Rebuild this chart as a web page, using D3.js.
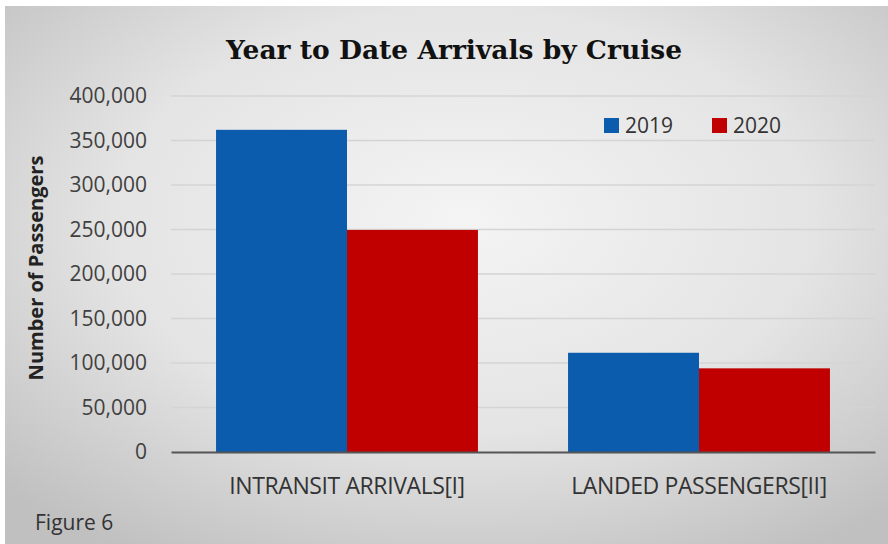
<!DOCTYPE html>
<html>
<head>
<meta charset="utf-8">
<script src="https://cdn.jsdelivr.net/npm/d3@7"></script>
<style>
  body { margin: 0; background: #fff; }
  svg { display: block; }
</style>
</head>
<body>
<svg></svg>
<script>
const svgWidth = 888;
const svgHeight = 544;

const categories = ["INTRANSIT ARRIVALS[I]", "LANDED PASSENGERS[II]"];
const seriesNames = ["2019", "2020"];
const values2019 = [362000, 111500];
const values2020 = [249500, 94000];
const yTicks = [0, 50000, 100000, 150000, 200000, 250000, 300000, 350000, 400000];
const seriesColors = ["#0b5cad", "#c00000"];

const svg = d3.select("svg")
  .attr("width", svgWidth)
  .attr("height", svgHeight);

// chart background: grey radial gradient
const defs = svg.append("defs");
const grad = defs.append("radialGradient")
  .attr("id", "bg")
  .attr("cx", "52%").attr("cy", "40%").attr("r", "72%");
grad.append("stop").attr("offset", "0%").attr("stop-color", "#f4f4f4");
grad.append("stop").attr("offset", "55%").attr("stop-color", "#e4e4e4");
grad.append("stop").attr("offset", "100%").attr("stop-color", "#c0c0c0");

svg.append("rect")
  .attr("x", 5).attr("y", 6)
  .attr("width", svgWidth - 5).attr("height", svgHeight - 6)
  .attr("fill", "url(#bg)");

const plot = { left: 171, right: 875, top: 96, bottom: 452 };

const x0 = d3.scaleBand()
  .domain(categories)
  .range([plot.left, plot.right])
  .padding(0);

const x1 = d3.scaleBand()
  .domain(seriesNames)
  .range([0, x0.bandwidth()])
  .paddingInner(0)
  .paddingOuter(0.344);

const y = d3.scaleLinear()
  .domain([0, 400000])
  .range([plot.bottom, plot.top]);

// gridlines
svg.append("g")
  .selectAll("line")
  .data(yTicks.filter(d => d > 0))
  .enter()
  .append("line")
  .attr("x1", plot.left)
  .attr("x2", plot.right)
  .attr("y1", d => y(d))
  .attr("y2", d => y(d))
  .attr("stroke", "#d4d4d4")
  .attr("stroke-width", 1.5);

// y axis labels
const yAxis = d3.axisLeft(y)
  .tickValues(yTicks)
  .tickFormat(d3.format(","))
  .tickSize(0)
  .tickPadding(24);

svg.append("g")
  .attr("transform", "translate(" + plot.left + ",0)")
  .call(yAxis)
  .call(g => g.select(".domain").remove())
  .selectAll("text")
  .attr("font-family", "'Open Sans', sans-serif")
  .attr("font-size", 21)
  .attr("fill", "#404040");

// bars
const rows = categories.map((c, i) => ({ cat: c, vals: [values2019[i], values2020[i]] }));

const groups = svg.selectAll("g.group")
  .data(rows)
  .enter()
  .append("g")
  .attr("class", "group")
  .attr("transform", d => "translate(" + x0(d.cat) + ",0)");

groups.selectAll("rect")
  .data(d => d.vals.map((v, i) => ({ key: seriesNames[i], value: v, color: seriesColors[i] })))
  .enter()
  .append("rect")
  .attr("x", d => x1(d.key))
  .attr("width", x1.bandwidth())
  .attr("y", d => y(d.value))
  .attr("height", d => y(0) - y(d.value))
  .attr("fill", d => d.color);

// x axis
const xAxis = d3.axisBottom(x0).tickSize(0).tickPadding(26);
svg.append("g")
  .attr("transform", "translate(0," + plot.bottom + ")")
  .call(xAxis)
  .call(g => g.select(".domain").attr("stroke", "#555").attr("stroke-width", 1.8))
  .selectAll("text")
  .attr("font-family", "'Open Sans', sans-serif")
  .attr("font-size", 23)
  .attr("letter-spacing", -0.4)
  .attr("fill", "#333");

// title
svg.append("text")
  .attr("x", 454)
  .attr("y", 59)
  .attr("text-anchor", "middle")
  .attr("font-family", "'DejaVu Serif', serif")
  .attr("font-weight", "bold")
  .attr("font-size", 26.5)
  .attr("fill", "#111")
  .text("Year to Date Arrivals by Cruise");

// y axis title
svg.append("text")
  .attr("transform", "translate(43,268) rotate(-90)")
  .attr("text-anchor", "middle")
  .attr("font-family", "'Open Sans', sans-serif")
  .attr("font-weight", "bold")
  .attr("font-size", 20)
  .attr("fill", "#222")
  .text("Number of Passengers");

// legend
const legend = svg.append("g").attr("transform", "translate(604,118)");
const legendItems = legend.selectAll("g")
  .data(seriesNames)
  .enter()
  .append("g")
  .attr("transform", (d, i) => "translate(" + (i * 108) + ",0)");
legendItems.append("rect")
  .attr("width", 15).attr("height", 15)
  .attr("fill", (d, i) => seriesColors[i]);
legendItems.append("text")
  .attr("x", 21).attr("y", 15)
  .attr("font-family", "'Open Sans', sans-serif")
  .attr("font-size", 21)
  .attr("fill", "#333")
  .text(d => d);

// footer
svg.append("text")
  .attr("x", 35)
  .attr("y", 530)
  .attr("font-family", "'Open Sans', sans-serif")
  .attr("font-size", 21)
  .attr("fill", "#333")
  .text("Figure 6");
</script>
</body>
</html>
